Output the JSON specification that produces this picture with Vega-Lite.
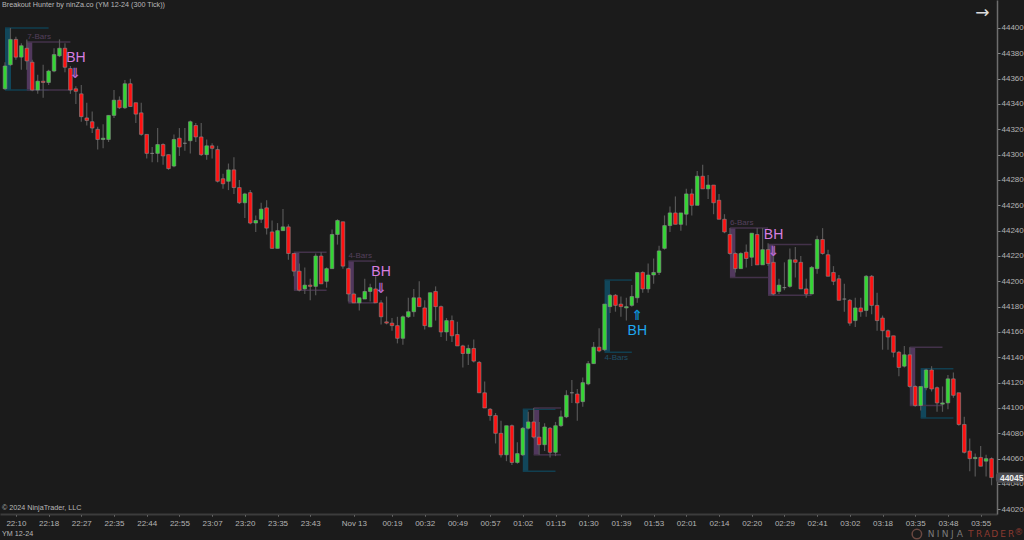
{
"$schema":"https://vega.github.io/schema/vega-lite/v6.json",
"width":997,"height":514,
"autosize":{"type":"none"},
"padding":{"left":0,"top":0,"right":27,"bottom":26},
"background":"#1b1b1b",
"view":{"stroke":null,"fill":"#1b1b1b"},
"config":{"font":"Liberation Sans","axis":{"title":null,"grid":false}},
"datasets":{
"boxes":[
{"k":"teal","x0":0,"x1":1.1,"xe":8,"top":44400,"bot":44351},
{"k":"purple","x0":4,"x1":5,"xe":12,"top":44389,"bot":44351},
{"k":"purple","x0":53,"x1":54,"xe":59,"top":44223,"bot":44193},
{"k":"purple","x0":63,"x1":64,"xe":68,"top":44216,"bot":44183},
{"k":"teal","x0":95,"x1":96,"xe":101,"top":44099,"bot":44050},
{"k":"purple","x0":97,"x1":98,"xe":102,"top":44100,"bot":44063},
{"k":"teal","x0":110,"x1":111,"xe":115,"top":44201,"bot":44144},
{"k":"purple","x0":133,"x1":134,"xe":140,"top":44242,"bot":44203},
{"k":"purple","x0":140,"x1":141,"xe":148,"top":44229,"bot":44189},
{"k":"purple","x0":166,"x1":167,"xe":172,"top":44148,"bot":44102},
{"k":"teal","x0":168,"x1":169,"xe":174,"top":44131,"bot":44092}
],
"candles":[
{"i":0,"o":44352,"h":44373,"l":44351,"c":44370,"d":"up"},
{"i":1,"o":44371,"h":44400,"l":44370,"c":44391,"d":"up"},
{"i":2,"o":44391,"h":44393,"l":44375,"c":44377,"d":"down"},
{"i":3,"o":44377,"h":44388,"l":44367,"c":44386,"d":"up"},
{"i":4,"o":44384,"h":44391,"l":44367,"c":44374,"d":"down"},
{"i":5,"o":44373,"h":44375,"l":44350,"c":44351,"d":"down"},
{"i":6,"o":44351,"h":44363,"l":44348,"c":44358,"d":"up"},
{"i":7,"o":44358,"h":44371,"l":44345,"c":44357,"d":"down"},
{"i":8,"o":44357,"h":44367,"l":44355,"c":44366,"d":"up"},
{"i":9,"o":44366,"h":44384,"l":44365,"c":44379,"d":"up"},
{"i":10,"o":44378,"h":44391,"l":44377,"c":44384,"d":"up"},
{"i":11,"o":44384,"h":44388,"l":44365,"c":44369,"d":"down"},
{"i":12,"o":44368,"h":44370,"l":44348,"c":44351,"d":"down"},
{"i":13,"o":44352,"h":44354,"l":44340,"c":44350,"d":"down"},
{"i":14,"o":44348,"h":44355,"l":44326,"c":44330,"d":"down"},
{"i":15,"o":44329,"h":44341,"l":44323,"c":44327,"d":"down"},
{"i":16,"o":44326,"h":44334,"l":44317,"c":44321,"d":"down"},
{"i":17,"o":44320,"h":44322,"l":44304,"c":44312,"d":"down"},
{"i":18,"o":44312,"h":44324,"l":44305,"c":44313,"d":"up"},
{"i":19,"o":44312,"h":44331,"l":44310,"c":44331,"d":"up"},
{"i":20,"o":44331,"h":44351,"l":44329,"c":44343,"d":"up"},
{"i":21,"o":44343,"h":44346,"l":44336,"c":44337,"d":"down"},
{"i":22,"o":44337,"h":44359,"l":44336,"c":44356,"d":"up"},
{"i":23,"o":44356,"h":44360,"l":44338,"c":44338,"d":"down"},
{"i":24,"o":44341,"h":44341,"l":44325,"c":44332,"d":"down"},
{"i":25,"o":44333,"h":44341,"l":44315,"c":44316,"d":"down"},
{"i":26,"o":44316,"h":44316,"l":44297,"c":44301,"d":"down"},
{"i":27,"o":44301,"h":44306,"l":44294,"c":44301,"d":"flat"},
{"i":28,"o":44301,"h":44321,"l":44294,"c":44308,"d":"up"},
{"i":29,"o":44308,"h":44309,"l":44292,"c":44299,"d":"down"},
{"i":30,"o":44300,"h":44300,"l":44288,"c":44289,"d":"down"},
{"i":31,"o":44291,"h":44316,"l":44290,"c":44312,"d":"up"},
{"i":32,"o":44313,"h":44321,"l":44299,"c":44306,"d":"down"},
{"i":33,"o":44309,"h":44321,"l":44303,"c":44309,"d":"flat"},
{"i":34,"o":44311,"h":44327,"l":44301,"c":44326,"d":"up"},
{"i":35,"o":44323,"h":44325,"l":44310,"c":44314,"d":"down"},
{"i":36,"o":44314,"h":44325,"l":44299,"c":44300,"d":"down"},
{"i":37,"o":44300,"h":44312,"l":44296,"c":44307,"d":"up"},
{"i":38,"o":44307,"h":44309,"l":44297,"c":44305,"d":"down"},
{"i":39,"o":44304,"h":44307,"l":44278,"c":44279,"d":"down"},
{"i":40,"o":44281,"h":44285,"l":44273,"c":44277,"d":"down"},
{"i":41,"o":44279,"h":44293,"l":44272,"c":44288,"d":"up"},
{"i":42,"o":44288,"h":44298,"l":44269,"c":44274,"d":"down"},
{"i":43,"o":44274,"h":44280,"l":44261,"c":44262,"d":"down"},
{"i":44,"o":44262,"h":44270,"l":44250,"c":44269,"d":"up"},
{"i":45,"o":44270,"h":44272,"l":44245,"c":44246,"d":"down"},
{"i":46,"o":44246,"h":44252,"l":44239,"c":44248,"d":"up"},
{"i":47,"o":44249,"h":44262,"l":44246,"c":44257,"d":"up"},
{"i":48,"o":44258,"h":44264,"l":44237,"c":44242,"d":"down"},
{"i":49,"o":44239,"h":44248,"l":44226,"c":44226,"d":"down"},
{"i":50,"o":44226,"h":44246,"l":44226,"c":44240,"d":"up"},
{"i":51,"o":44240,"h":44257,"l":44240,"c":44243,"d":"up"},
{"i":52,"o":44243,"h":44245,"l":44217,"c":44222,"d":"down"},
{"i":53,"o":44222,"h":44222,"l":44204,"c":44208,"d":"down"},
{"i":54,"o":44208,"h":44214,"l":44192,"c":44193,"d":"down"},
{"i":55,"o":44194,"h":44211,"l":44190,"c":44197,"d":"up"},
{"i":56,"o":44197,"h":44202,"l":44185,"c":44196,"d":"down"},
{"i":57,"o":44196,"h":44222,"l":44189,"c":44220,"d":"up"},
{"i":58,"o":44220,"h":44223,"l":44198,"c":44198,"d":"down"},
{"i":59,"o":44200,"h":44211,"l":44195,"c":44210,"d":"up"},
{"i":60,"o":44210,"h":44241,"l":44210,"c":44237,"d":"up"},
{"i":61,"o":44237,"h":44249,"l":44229,"c":44248,"d":"up"},
{"i":62,"o":44247,"h":44247,"l":44210,"c":44212,"d":"down"},
{"i":63,"o":44210,"h":44211,"l":44184,"c":44190,"d":"down"},
{"i":64,"o":44190,"h":44191,"l":44183,"c":44183,"d":"down"},
{"i":65,"o":44183,"h":44187,"l":44177,"c":44187,"d":"up"},
{"i":66,"o":44186,"h":44202,"l":44186,"c":44192,"d":"up"},
{"i":67,"o":44192,"h":44198,"l":44184,"c":44195,"d":"up"},
{"i":68,"o":44194,"h":44204,"l":44183,"c":44183,"d":"down"},
{"i":69,"o":44183,"h":44185,"l":44166,"c":44172,"d":"down"},
{"i":70,"o":44168,"h":44188,"l":44166,"c":44167,"d":"down"},
{"i":71,"o":44167,"h":44171,"l":44161,"c":44165,"d":"down"},
{"i":72,"o":44165,"h":44172,"l":44151,"c":44155,"d":"down"},
{"i":73,"o":44155,"h":44173,"l":44150,"c":44172,"d":"up"},
{"i":74,"o":44172,"h":44187,"l":44171,"c":44176,"d":"up"},
{"i":75,"o":44176,"h":44194,"l":44172,"c":44187,"d":"up"},
{"i":76,"o":44187,"h":44200,"l":44180,"c":44180,"d":"down"},
{"i":77,"o":44179,"h":44185,"l":44162,"c":44165,"d":"down"},
{"i":78,"o":44164,"h":44191,"l":44164,"c":44191,"d":"up"},
{"i":79,"o":44192,"h":44196,"l":44169,"c":44180,"d":"down"},
{"i":80,"o":44180,"h":44181,"l":44156,"c":44160,"d":"down"},
{"i":81,"o":44160,"h":44171,"l":44153,"c":44169,"d":"up"},
{"i":82,"o":44169,"h":44173,"l":44152,"c":44157,"d":"down"},
{"i":83,"o":44158,"h":44168,"l":44149,"c":44149,"d":"down"},
{"i":84,"o":44149,"h":44150,"l":44132,"c":44143,"d":"down"},
{"i":85,"o":44143,"h":44150,"l":44134,"c":44147,"d":"up"},
{"i":86,"o":44147,"h":44154,"l":44136,"c":44137,"d":"down"},
{"i":87,"o":44136,"h":44137,"l":44112,"c":44112,"d":"down"},
{"i":88,"o":44112,"h":44121,"l":44100,"c":44100,"d":"down"},
{"i":89,"o":44099,"h":44100,"l":44090,"c":44094,"d":"down"},
{"i":90,"o":44094,"h":44096,"l":44072,"c":44080,"d":"down"},
{"i":91,"o":44080,"h":44090,"l":44061,"c":44063,"d":"down"},
{"i":92,"o":44063,"h":44086,"l":44058,"c":44086,"d":"up"},
{"i":93,"o":44086,"h":44087,"l":44055,"c":44057,"d":"down"},
{"i":94,"o":44057,"h":44073,"l":44056,"c":44064,"d":"up"},
{"i":95,"o":44063,"h":44085,"l":44062,"c":44084,"d":"up"},
{"i":96,"o":44084,"h":44097,"l":44083,"c":44089,"d":"up"},
{"i":97,"o":44089,"h":44100,"l":44076,"c":44077,"d":"down"},
{"i":98,"o":44077,"h":44089,"l":44063,"c":44071,"d":"down"},
{"i":99,"o":44071,"h":44088,"l":44066,"c":44085,"d":"up"},
{"i":100,"o":44084,"h":44085,"l":44061,"c":44065,"d":"down"},
{"i":101,"o":44065,"h":44089,"l":44062,"c":44086,"d":"up"},
{"i":102,"o":44086,"h":44098,"l":44085,"c":44093,"d":"up"},
{"i":103,"o":44093,"h":44114,"l":44092,"c":44110,"d":"up"},
{"i":104,"o":44112,"h":44122,"l":44104,"c":44112,"d":"flat"},
{"i":105,"o":44111,"h":44115,"l":44090,"c":44104,"d":"down"},
{"i":106,"o":44105,"h":44124,"l":44101,"c":44120,"d":"up"},
{"i":107,"o":44119,"h":44137,"l":44118,"c":44135,"d":"up"},
{"i":108,"o":44135,"h":44152,"l":44135,"c":44148,"d":"up"},
{"i":109,"o":44148,"h":44163,"l":44144,"c":44145,"d":"down"},
{"i":110,"o":44146,"h":44182,"l":44145,"c":44182,"d":"up"},
{"i":111,"o":44180,"h":44190,"l":44175,"c":44189,"d":"up"},
{"i":112,"o":44189,"h":44190,"l":44176,"c":44181,"d":"down"},
{"i":113,"o":44182,"h":44188,"l":44172,"c":44180,"d":"down"},
{"i":114,"o":44179,"h":44187,"l":44169,"c":44180,"d":"up"},
{"i":115,"o":44181,"h":44197,"l":44180,"c":44188,"d":"up"},
{"i":116,"o":44187,"h":44207,"l":44183,"c":44207,"d":"up"},
{"i":117,"o":44207,"h":44208,"l":44191,"c":44194,"d":"down"},
{"i":118,"o":44194,"h":44214,"l":44191,"c":44205,"d":"up"},
{"i":119,"o":44205,"h":44218,"l":44198,"c":44207,"d":"up"},
{"i":120,"o":44207,"h":44228,"l":44205,"c":44224,"d":"up"},
{"i":121,"o":44226,"h":44252,"l":44225,"c":44244,"d":"up"},
{"i":122,"o":44244,"h":44259,"l":44239,"c":44254,"d":"up"},
{"i":123,"o":44254,"h":44267,"l":44245,"c":44245,"d":"down"},
{"i":124,"o":44245,"h":44254,"l":44240,"c":44254,"d":"up"},
{"i":125,"o":44253,"h":44273,"l":44244,"c":44269,"d":"up"},
{"i":126,"o":44269,"h":44273,"l":44252,"c":44260,"d":"down"},
{"i":127,"o":44260,"h":44287,"l":44260,"c":44283,"d":"up"},
{"i":128,"o":44283,"h":44292,"l":44273,"c":44273,"d":"down"},
{"i":129,"o":44273,"h":44284,"l":44265,"c":44276,"d":"up"},
{"i":130,"o":44276,"h":44276,"l":44253,"c":44262,"d":"down"},
{"i":131,"o":44264,"h":44269,"l":44249,"c":44249,"d":"down"},
{"i":132,"o":44249,"h":44253,"l":44238,"c":44239,"d":"down"},
{"i":133,"o":44237,"h":44242,"l":44221,"c":44222,"d":"down"},
{"i":134,"o":44222,"h":44223,"l":44207,"c":44210,"d":"down"},
{"i":135,"o":44210,"h":44223,"l":44210,"c":44222,"d":"up"},
{"i":136,"o":44223,"h":44229,"l":44211,"c":44218,"d":"down"},
{"i":137,"o":44219,"h":44238,"l":44212,"c":44238,"d":"up"},
{"i":138,"o":44237,"h":44242,"l":44213,"c":44213,"d":"down"},
{"i":139,"o":44213,"h":44242,"l":44213,"c":44225,"d":"up"},
{"i":140,"o":44225,"h":44230,"l":44212,"c":44214,"d":"down"},
{"i":141,"o":44215,"h":44227,"l":44189,"c":44190,"d":"down"},
{"i":142,"o":44192,"h":44202,"l":44190,"c":44197,"d":"up"},
{"i":143,"o":44195,"h":44215,"l":44193,"c":44195,"d":"flat"},
{"i":144,"o":44196,"h":44226,"l":44195,"c":44217,"d":"up"},
{"i":145,"o":44217,"h":44227,"l":44203,"c":44215,"d":"down"},
{"i":146,"o":44215,"h":44220,"l":44194,"c":44194,"d":"down"},
{"i":147,"o":44194,"h":44202,"l":44187,"c":44190,"d":"down"},
{"i":148,"o":44190,"h":44212,"l":44190,"c":44211,"d":"up"},
{"i":149,"o":44210,"h":44236,"l":44206,"c":44233,"d":"up"},
{"i":150,"o":44233,"h":44242,"l":44221,"c":44222,"d":"down"},
{"i":151,"o":44221,"h":44225,"l":44204,"c":44204,"d":"down"},
{"i":152,"o":44207,"h":44212,"l":44197,"c":44200,"d":"down"},
{"i":153,"o":44202,"h":44205,"l":44185,"c":44185,"d":"down"},
{"i":154,"o":44186,"h":44198,"l":44176,"c":44186,"d":"flat"},
{"i":155,"o":44185,"h":44186,"l":44165,"c":44167,"d":"down"},
{"i":156,"o":44169,"h":44187,"l":44164,"c":44179,"d":"up"},
{"i":157,"o":44179,"h":44187,"l":44172,"c":44176,"d":"down"},
{"i":158,"o":44177,"h":44205,"l":44172,"c":44204,"d":"up"},
{"i":159,"o":44204,"h":44205,"l":44174,"c":44181,"d":"down"},
{"i":160,"o":44181,"h":44191,"l":44161,"c":44169,"d":"down"},
{"i":161,"o":44171,"h":44173,"l":44146,"c":44161,"d":"down"},
{"i":162,"o":44161,"h":44162,"l":44146,"c":44156,"d":"down"},
{"i":163,"o":44157,"h":44157,"l":44140,"c":44144,"d":"down"},
{"i":164,"o":44144,"h":44145,"l":44125,"c":44132,"d":"down"},
{"i":165,"o":44133,"h":44149,"l":44132,"c":44142,"d":"up"},
{"i":166,"o":44142,"h":44148,"l":44116,"c":44117,"d":"down"},
{"i":167,"o":44117,"h":44118,"l":44101,"c":44102,"d":"down"},
{"i":168,"o":44102,"h":44117,"l":44098,"c":44117,"d":"up"},
{"i":169,"o":44116,"h":44131,"l":44114,"c":44130,"d":"up"},
{"i":170,"o":44130,"h":44133,"l":44113,"c":44115,"d":"down"},
{"i":171,"o":44116,"h":44117,"l":44097,"c":44104,"d":"down"},
{"i":172,"o":44103,"h":44117,"l":44097,"c":44104,"d":"up"},
{"i":173,"o":44104,"h":44126,"l":44099,"c":44123,"d":"up"},
{"i":174,"o":44123,"h":44128,"l":44108,"c":44110,"d":"down"},
{"i":175,"o":44112,"h":44112,"l":44086,"c":44087,"d":"down"},
{"i":176,"o":44087,"h":44093,"l":44064,"c":44065,"d":"down"},
{"i":177,"o":44066,"h":44076,"l":44050,"c":44060,"d":"down"},
{"i":178,"o":44060,"h":44064,"l":44046,"c":44061,"d":"up"},
{"i":179,"o":44061,"h":44070,"l":44054,"c":44054,"d":"down"},
{"i":180,"o":44058,"h":44063,"l":44046,"c":44060,"d":"up"},
{"i":181,"o":44060,"h":44061,"l":44039,"c":44045,"d":"down"}
]
},
"resolve":{"scale":{"color":"independent"},"axis":{"x":"independent","y":"independent"}},
"layer":[
{"data":{"name":"boxes"},
 "mark":{"type":"rect","opacity":0.85},
 "encoding":{
  "x":{"field":"x0","type":"quantitative","title":null,"scale":{"domain":[-0.917,182],"nice":false,"zero":false,"padding":0},
   "axis":{"orient":"bottom","title":null,"values":[2,8,14,20,26,32,38,44,50,56,64,71,77,83,89,95,101,107,113,119,125,131,137,143,149,155,161,167,173,179],
    "labelExpr":"{'2':'22:10','8':'22:18','14':'22:27','20':'22:35','26':'22:44','32':'22:55','38':'23:07','44':'23:20','50':'23:35','56':'23:43','64':'Nov 13','71':'00:19','77':'00:32','83':'00:49','89':'00:57','95':'01:02','101':'01:15','107':'01:30','113':'01:39','119':'01:53','125':'02:01','131':'02:14','137':'02:20','143':'02:29','149':'02:41','155':'03:02','161':'03:18','167':'03:35','173':'03:48','179':'03:55'}[''+datum.value]",
    "labelColor":"#b4b4b4","labelFontSize":8,"labelFont":"Liberation Sans","labelOverlap":false,"labelPadding":3,"labelFlush":false,
    "domainColor":"#3c3c3c","domainWidth":2,"tickColor":"#8a8a8a","tickSize":2,"tickWidth":1}},
  "x2":{"field":"x1"},
  "y":{"field":"top","type":"quantitative","title":null,"scale":{"domain":[44016.3,44422.1],"nice":false,"zero":false,"padding":0},
   "axis":{"orient":"right","title":null,"values":[44020,44040,44060,44080,44100,44120,44140,44160,44180,44200,44220,44240,44260,44280,44300,44320,44340,44360,44380,44400],"format":"d",
    "labelColor":"#b4b4b4","labelFontSize":8,"labelFont":"Liberation Sans","labelPadding":1,"labelOverlap":false,"labelFlush":false,
    "domainColor":"#6e6e6e","domainWidth":1.5,"tickColor":"#8a8a8a","tickSize":3,"tickWidth":1}},
  "y2":{"field":"bot"},
  "color":{"field":"k","type":"nominal","legend":null,"scale":{"domain":["teal","purple"],"range":["#0f4f66","#5a3d68"]}}
 }},
{"data":{"name":"boxes"},
 "mark":{"type":"rule","strokeWidth":1.5},
 "encoding":{
  "x":{"field":"x0","type":"quantitative","axis":null},"x2":{"field":"xe"},
  "y":{"field":"top","type":"quantitative","axis":null},
  "color":{"field":"k","type":"nominal","legend":null,"scale":{"domain":["teal","purple"],"range":["#113f50","#43324a"]}}
 }},
{"data":{"name":"boxes"},
 "mark":{"type":"rule","strokeWidth":1.5},
 "encoding":{
  "x":{"field":"x0","type":"quantitative","axis":null},"x2":{"field":"xe"},
  "y":{"field":"bot","type":"quantitative","axis":null},
  "color":{"field":"k","type":"nominal","legend":null,"scale":{"domain":["teal","purple"],"range":["#113f50","#43324a"]}}
 }},
{"data":{"name":"candles"},
 "mark":{"type":"rule","color":"#565656","strokeWidth":1.2},
 "encoding":{
  "x":{"field":"i","type":"quantitative","axis":null},
  "y":{"field":"l","type":"quantitative","axis":null},
  "y2":{"field":"h"}
 }},
{"data":{"name":"candles"},
 "mark":{"type":"bar","size":3.6,"stroke":"#8c8c8c","strokeWidth":0.6},
 "encoding":{
  "x":{"field":"i","type":"quantitative","axis":null},
  "y":{"field":"o","type":"quantitative","axis":null},
  "y2":{"field":"c"},
  "color":{"field":"d","type":"nominal","legend":null,"scale":{"domain":["up","down","flat"],"range":["#33d633","#ff1010","#8c8c8c"]}}
 }},
{"data":{"values":[
  {"i":4.1,"p":44393,"t":"7-Bars"},
  {"i":63,"p":44220,"t":"4-Bars"},
  {"i":133,"p":44246,"t":"6-Bars"}]},
 "mark":{"type":"text","align":"left","baseline":"middle","fontSize":8,"color":"#54405c","font":"Liberation Sans"},
 "encoding":{"x":{"field":"i","type":"quantitative","axis":null},"y":{"field":"p","type":"quantitative","axis":null},"text":{"field":"t"}}},
{"data":{"values":[{"i":110,"p":44139.5,"t":"4-Bars"}]},
 "mark":{"type":"text","align":"left","baseline":"middle","fontSize":8,"color":"#1f5068","font":"Liberation Sans"},
 "encoding":{"x":{"field":"i","type":"quantitative","axis":null},"y":{"field":"p","type":"quantitative","axis":null},"text":{"field":"t"}}},
{"data":{"values":[
  {"i":13,"p":44376,"t":"BH"},
  {"i":69,"p":44207,"t":"BH"},
  {"i":141,"p":44236.5,"t":"BH"}]},
 "mark":{"type":"text","align":"center","baseline":"middle","fontSize":14,"color":"#d77fe0","font":"Liberation Sans"},
 "encoding":{"x":{"field":"i","type":"quantitative","axis":null},"y":{"field":"p","type":"quantitative","axis":null},"text":{"field":"t"}}},
{"data":{"values":[
  {"i":12.9,"p":44364,"t":"⇓"},
  {"i":69,"p":44194,"t":"⇓"},
  {"i":141,"p":44223,"t":"⇓"}]},
 "mark":{"type":"text","align":"center","baseline":"middle","fontSize":14,"fontWeight":"bold","color":"#b566cf","font":"DejaVu Sans"},
 "encoding":{"x":{"field":"i","type":"quantitative","axis":null},"y":{"field":"p","type":"quantitative","axis":null},"text":{"field":"t"}}},
{"data":{"values":[{"i":116,"p":44161,"t":"BH"}]},
 "mark":{"type":"text","align":"center","baseline":"middle","fontSize":14,"color":"#1fa8f0","font":"Liberation Sans"},
 "encoding":{"x":{"field":"i","type":"quantitative","axis":null},"y":{"field":"p","type":"quantitative","axis":null},"text":{"field":"t"}}},
{"data":{"values":[{"i":116,"p":44173,"t":"⇑"}]},
 "mark":{"type":"text","align":"center","baseline":"middle","fontSize":14,"fontWeight":"bold","color":"#0e8fd6","font":"DejaVu Sans"},
 "encoding":{"x":{"field":"i","type":"quantitative","axis":null},"y":{"field":"p","type":"quantitative","axis":null},"text":{"field":"t"}}},
{"data":{"values":[
  {"i":-0.55,"p":44418,"t":"Breakout Hunter by ninZa.co (YM 12-24 (300 Tick))"},
  {"i":-0.55,"p":44020.8,"t":"© 2024 NinjaTrader, LLC"},
  {"i":-0.55,"p":44000.5,"t":"YM 12-24"}]},
 "mark":{"type":"text","align":"left","baseline":"middle","fontSize":7.2,"color":"#b8b8b8","font":"Liberation Sans"},
 "encoding":{"x":{"field":"i","type":"quantitative","axis":null},"y":{"field":"p","type":"quantitative","axis":null},"text":{"field":"t"}}},
{"data":{"values":[{"i":179.3,"p":44412,"t":"→"}]},
 "mark":{"type":"text","align":"center","baseline":"middle","fontSize":17,"color":"#dcdcdc","font":"DejaVu Sans"},
 "encoding":{"x":{"field":"i","type":"quantitative","axis":null},"y":{"field":"p","type":"quantitative","axis":null},"text":{"field":"t"}}},
{"data":{"values":[{"a":181.8,"b":187,"t":44049,"u":44041}]},
 "mark":{"type":"rect","color":"#4c4c50","cornerRadius":3,"clip":false},
 "encoding":{"x":{"field":"a","type":"quantitative","axis":null},"x2":{"field":"b"},"y":{"field":"t","type":"quantitative","axis":null},"y2":{"field":"u"}}},
{"data":{"values":[{"i":184.7,"p":44045,"t":"44045"}]},
 "mark":{"type":"text","align":"center","baseline":"middle","fontSize":8.5,"fontWeight":"bold","color":"#f0f0f0","font":"Liberation Sans"},
 "encoding":{"x":{"field":"i","type":"quantitative","axis":null},"y":{"field":"p","type":"quantitative","axis":null},"text":{"field":"t"}}},
{"data":{"values":[{"i":167.3,"p":44000.5}]},
 "mark":{"type":"point","size":90,"stroke":"#8a5a50","strokeWidth":1.5,"filled":false},
 "encoding":{"x":{"field":"i","type":"quantitative","axis":null},"y":{"field":"p","type":"quantitative","axis":null}}},
{"data":{"values":[
  {"i":169.9,"p":44000.5,"t":"N"},{"i":171.2,"p":44000.5,"t":"I"},{"i":172.5,"p":44000.5,"t":"N"},{"i":173.8,"p":44000.5,"t":"J"},{"i":175.2,"p":44000.5,"t":"A"}]},
 "mark":{"type":"text","align":"center","baseline":"middle","fontSize":9,"color":"#7a7a7a","font":"DejaVu Sans"},
 "encoding":{"x":{"field":"i","type":"quantitative","axis":null},"y":{"field":"p","type":"quantitative","axis":null},"text":{"field":"t"}}},
{"data":{"values":[
  {"i":177.2,"p":44000.5,"t":"T"},{"i":178.7,"p":44000.5,"t":"R"},{"i":180.2,"p":44000.5,"t":"A"},{"i":181.6,"p":44000.5,"t":"D"},{"i":183.1,"p":44000.5,"t":"E"},{"i":184.6,"p":44000.5,"t":"R"},{"i":186,"p":44002,"t":"®"}]},
 "mark":{"type":"text","align":"center","baseline":"middle","fontSize":9,"color":"#8c3a30","font":"DejaVu Sans"},
 "encoding":{"x":{"field":"i","type":"quantitative","axis":null},"y":{"field":"p","type":"quantitative","axis":null},"text":{"field":"t"}}}
]
}
